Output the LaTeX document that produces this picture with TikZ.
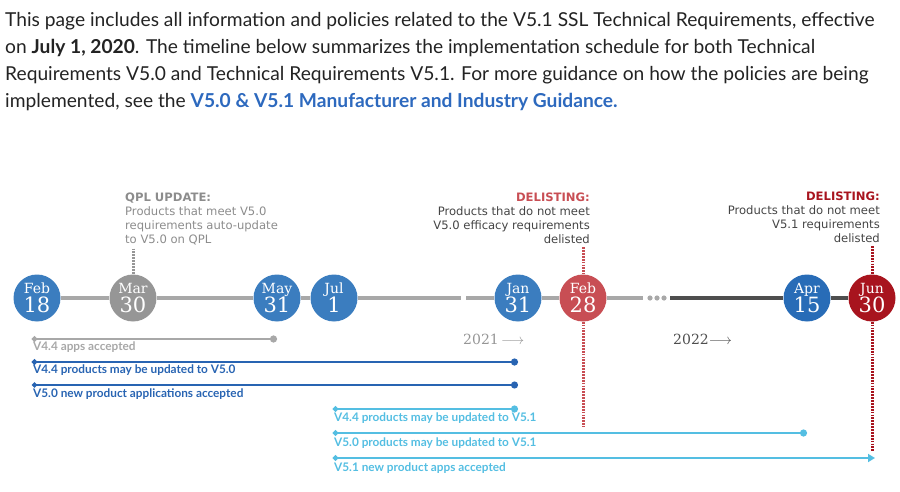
\documentclass[tikz,border=0pt]{standalone}
\usepackage{fontspec}
\setmainfont{Lato}
\newfontfamily\datefont{DejaVu Serif}
\newfontfamily\notefont{DejaVu Sans}
\usetikzlibrary{positioning,arrows.meta}

\definecolor{bodytext}{RGB}{35,35,35}
\definecolor{linkblue}{RGB}{45,105,190}
\definecolor{dateblue}{RGB}{59,125,191}
\definecolor{aprblue}{RGB}{40,108,183}
\definecolor{dategray}{RGB}{150,150,150}
\definecolor{febred}{RGB}{200,78,84}
\definecolor{junred}{RGB}{168,20,30}
\definecolor{linegray}{RGB}{168,168,168}
\definecolor{darkline}{RGB}{78,78,78}
\definecolor{notegray}{RGB}{140,140,140}
\definecolor{barblue}{RGB}{40,100,178}
\definecolor{barcyan}{RGB}{84,190,226}

\newcommand{\datetext}[2]{{\fontsize{14}{14}\selectfont #1}\\#2}

\tikzset{
  datenode/.style={circle, fill=#1, minimum size=47pt, inner sep=0pt,
    text=white, align=center, font=\datefont\fontsize{21}{19}\selectfont},
  timeline/.style={draw=linegray, line width=4pt},
  notetext/.style={font=\notefont\fontsize{11.6}{14}\selectfont, text=bodytext!85},
  dotline/.style={line width=3pt, dash pattern=on 1.8pt off 1.1pt},
  bar/.style={line width=2.6pt, draw=#1, {Circle[length=5pt]}-{Circle[length=7pt]}},
  barlabel/.style={anchor=base west, inner sep=0pt, text=#1,
    font=\fontsize{11.8}{13}\selectfont\bfseries},
  yearlabel/.style={font=\datefont\fontsize{14}{14}\selectfont, inner sep=0pt},
  bodyline/.style={anchor=base west, inner sep=0pt, text=bodytext,
    font=\fontsize{19.2}{27}\selectfont}
}

\begin{document}
\begin{tikzpicture}[x=1pt, y=-1pt]
  \useasboundingbox (0,0) rectangle (900,492);

  % intro text
  \node[bodyline] (line1) at (5,27) {This page includes all information and policies related to the V5.1 SSL Technical Requirements, effective};
  \node[bodyline] (line2) at (5,54) {on \textbf{July 1, 2020}. The timeline below summarizes the implementation schedule for both Technical};
  \node[bodyline] (line3) at (5,81) {Requirements V5.0 and Technical Requirements V5.1. For more guidance on how the policies are being};
  \node[bodyline] (line4) at (5,108) {implemented, see the \textcolor{linkblue}{\textbf{V5.0 \& V5.1 Manufacturer and Industry Guidance.}}};

  % dates
  \draw
    (37,298) node[datenode=dateblue] (feb18) {\datetext{Feb}{18}}
    (133,298) node[datenode=dategray] (mar30) {\datetext{Mar}{30}}
    (277,298) node[datenode=dateblue] (may31) {\datetext{May}{31}}
    (334,298) node[datenode=dateblue] (jul1) {\datetext{Jul}{1}}
    (518,298) node[datenode=dateblue] (jan31) {\datetext{Jan}{31}}
    (583,298) node[datenode=febred] (feb28) {\datetext{Feb}{28}}
    (807,298) node[datenode=aprblue] (apr15) {\datetext{Apr}{15}}
    (872,298) node[datenode=junred] (jun30) {\datetext{Jun}{30}};
  \coordinate (breakA) at (461,298);
  \coordinate (breakB) at (466,298);
  \coordinate (grayend) at (643,298);
  \coordinate (darkstart) at (670,298);

  \begin{scope}[timeline]
    \draw (feb18) to (mar30);
    \draw (mar30) to (may31);
    \draw (may31) to (jul1);
    \draw (jul1) to (breakA);
    \draw (breakB) to (jan31);
    \draw (jan31) to (feb28);
    \draw (feb28) to (grayend);
  \end{scope}
  \foreach \x in {650,657,664}
    \fill[linegray] (\x,298) circle (2.6pt);
  \draw[darkline, line width=4pt] (darkstart) to (apr15);
  \draw[darkline, line width=4pt] (apr15) to (jun30);

  % notes
  \node[anchor=north west, align=left, inner sep=0pt, notetext, text=notegray] (qpl) at (125,193)
    {\textbf{QPL UPDATE:}\\Products that meet V5.0\\requirements auto-update\\to V5.0 on QPL};
  \node[anchor=north east, align=right, inner sep=0pt, notetext] (delist1) at (590,193)
    {\textcolor{febred}{\textbf{DELISTING:}}\\Products that do not meet\\V5.0 efficacy requirements\\delisted};
  \node[anchor=north east, align=right, inner sep=0pt, notetext] (delist2) at (880,192)
    {\textcolor{junred}{\textbf{DELISTING:}}\\Products that do not meet\\V5.1 requirements\\delisted};
  \coordinate (feb28end) at (583,427);
  \coordinate (jun30end) at (872,452);
  \draw[dotline, dategray] ([yshift=-3pt]qpl.south -| mar30) to (mar30);
  \draw[dotline, febred] ([yshift=-3pt]delist1.south -| feb28) to (feb28);
  \draw[dotline, febred] (feb28) to (feb28end);
  \draw[dotline, junred] ([yshift=-3pt]delist2.south -| jun30) to (jun30);
  \draw[dotline, junred] (jun30) to (jun30end);

  % years
  \node[yearlabel, text=dategray, anchor=west] (y2021) at (463,339) {2021\,$\longrightarrow$};
  \node[yearlabel, text=darkline, anchor=west] (y2022) at (673,339) {2022$\longrightarrow$};

  % bars
  \coordinate (b1s) at (32,339);  \coordinate (b1e) at (may31 |- b1s);
  \coordinate (b2s) at (32,362);  \coordinate (b2e) at (jan31 |- b2s);
  \coordinate (b3s) at (32,385);  \coordinate (b3e) at (jan31 |- b3s);
  \coordinate (b4s) at (333,409); \coordinate (b4e) at (jan31 |- b4s);
  \coordinate (b5s) at (333,433); \coordinate (b5e) at (apr15 |- b5s);
  \coordinate (b6s) at (333,458); \coordinate (b6e) at (875,458);
  \draw[bar=linegray] (b1s) -- (b1e);
  \draw[bar=barblue] (b2s) -- (b2e);
  \draw[bar=barblue, line width=2pt] (b3s) -- (b3e);
  \draw[bar=barcyan] (b4s) -- (b4e);
  \draw[bar=barcyan] (b5s) -- (b5e);
  \draw[line width=2.6pt, draw=barcyan, {Circle[length=5pt]}-{Triangle[length=7pt,width=8pt]}] (b6s) -- (b6e);
  \node[barlabel=linegray] (l1) at (33,350) {V4.4 apps accepted};
  \node[barlabel=barblue] (l2) at (33,373) {V4.4 products may be updated to V5.0};
  \node[barlabel=barblue] (l3) at (33,397) {V5.0 new product applications accepted};
  \node[barlabel=barcyan] (l4) at (334,421) {V4.4 products may be updated to V5.1};
  \node[barlabel=barcyan] (l5) at (334,446) {V5.0 products may be updated to V5.1};
  \node[barlabel=barcyan] (l6) at (334,471) {V5.1 new product apps accepted};
\end{tikzpicture}
\end{document}
